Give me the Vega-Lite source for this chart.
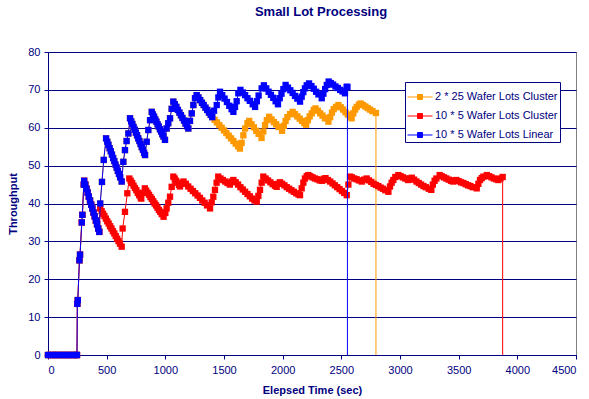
{
"$schema": "https://vega.github.io/schema/vega-lite/v6.json",
"width": 528, "height": 303,
"autosize": {"type": "none"},
"padding": {"left": 48, "top": 52, "right": 13, "bottom": 44},
"background": "white",
"title": {"text": "Small Lot Processing", "font": "Liberation Sans", "fontSize": 13, "fontWeight": "bold", "color": "#000080", "anchor": "middle", "dx": 9, "offset": 27},
"config": {
  "view": {"stroke": "#808080", "strokeWidth": 1},
  "axis": {"labelFont": "Liberation Sans", "labelFontSize": 11, "labelColor": "#000080", "domainColor": "#000080", "tickColor": "#000080", "tickSize": 4, "titleFont": "Liberation Sans", "titleFontSize": 11, "titleFontWeight": "bold", "titleColor": "#000080", "gridColor": "#000080", "gridOpacity": 1, "gridWidth": 1}
},
"datasets": {
"orange": [
{"t":0,"v":0},{"t":20,"v":0},{"t":40,"v":0},{"t":60,"v":0},{"t":80,"v":0},{"t":100,"v":0},{"t":120,"v":0},{"t":140,"v":0},{"t":160,"v":0},{"t":180,"v":0},{"t":200,"v":0},{"t":220,"v":0},{"t":240,"v":0},{"t":247,"v":0},
{"t":250,"v":13.5},{"t":254,"v":14.5},{"t":268,"v":25},{"t":273,"v":26.5},{"t":288,"v":35},{"t":293,"v":37},{"t":305,"v":45},{"t":308,"v":46},{"t":318,"v":45},{"t":328,"v":43.9},{"t":338,"v":42.9},{"t":348,"v":41.8},{"t":358,"v":40.8},{"t":368,"v":39.7},{"t":378,"v":38.7},{"t":388,"v":37.6},{"t":398,"v":36.6},{"t":408,"v":35.5},{"t":418,"v":34.5},{"t":428,"v":33.4},{"t":437,"v":32.5},
{"t":445,"v":40},{"t":460,"v":45.7},{"t":475,"v":51.5},{"t":495,"v":57.2},{"t":505,"v":56.3},{"t":515,"v":55.5},{"t":525,"v":54.6},{"t":535,"v":53.8},{"t":545,"v":52.9},{"t":555,"v":52},{"t":565,"v":51.2},{"t":575,"v":50.3},{"t":585,"v":49.5},{"t":595,"v":48.6},{"t":605,"v":47.8},{"t":615,"v":46.9},{"t":628,"v":45.8},{"t":642,"v":51},{"t":656,"v":54.1},{"t":670,"v":56.5},{"t":685,"v":58.5},{"t":699,"v":62.5},{"t":709,"v":61.7},{"t":719,"v":61},{"t":729,"v":60.2},{"t":739,"v":59.5},{"t":749,"v":58.7},{"t":759,"v":58},{"t":769,"v":57.2},{"t":779,"v":56.5},{"t":789,"v":55.7},{"t":799,"v":54.9},{"t":809,"v":54.2},{"t":819,"v":53.4},{"t":827,"v":52.8},{"t":841,"v":56.3},{"t":855,"v":59.4},{"t":870,"v":62},{"t":884,"v":64.2},{"t":894,"v":63.5},{"t":904,"v":62.9},{"t":914,"v":62.2},{"t":924,"v":61.6},{"t":934,"v":60.9},{"t":944,"v":60.3},{"t":954,"v":59.6},{"t":964,"v":59},{"t":974,"v":58.3},{"t":984,"v":57.7},{"t":997,"v":56.8},{"t":1011,"v":59.8},{"t":1025,"v":61.2},{"t":1040,"v":62.5},{"t":1054,"v":65},{"t":1068,"v":66.9},{"t":1081,"v":66.2},{"t":1094,"v":65.5},{"t":1107,"v":64.7},{"t":1120,"v":64},{"t":1133,"v":63.3},{"t":1146,"v":62.6},{"t":1159,"v":61.9},{"t":1172,"v":61.1},{"t":1185,"v":60.4},{"t":1196,"v":59.8},{"t":1210,"v":61.8},{"t":1225,"v":63.8},{"t":1239,"v":66},{"t":1253,"v":67.8},{"t":1267,"v":68.6},{"t":1282,"v":68},{"t":1297,"v":67.3},{"t":1312,"v":66.6},{"t":1327,"v":66},{"t":1342,"v":65.3},{"t":1357,"v":64.7},{"t":1372,"v":64},{"t":1387,"v":63.4},{"t":1400,"v":62.8},
{"t":1420,"v":62.1},{"t":1440,"v":61.4},{"t":1460,"v":60.7},{"t":1480,"v":60},{"t":1500,"v":59.3},{"t":1520,"v":58.6},{"t":1540,"v":57.9},{"t":1560,"v":57.2},{"t":1580,"v":56.5},{"t":1600,"v":55.8},{"t":1620,"v":55.1},{"t":1636,"v":54.5},{"t":1650,"v":56},{"t":1665,"v":58},{"t":1680,"v":59.8},{"t":1700,"v":61.2},{"t":1715,"v":61.8},{"t":1735,"v":60.9},{"t":1755,"v":60.1},{"t":1775,"v":59.2},{"t":1795,"v":58.4},{"t":1820,"v":57.3},{"t":1835,"v":59},{"t":1850,"v":60.7},{"t":1865,"v":62},{"t":1885,"v":62.9},{"t":1905,"v":62.2},{"t":1925,"v":61.5},{"t":1945,"v":60.9},{"t":1965,"v":60.2},{"t":1995,"v":59.2},{"t":2010,"v":60.5},{"t":2025,"v":61.8},{"t":2040,"v":62.8},{"t":2063,"v":63.6},{"t":2085,"v":64.2},{"t":2105,"v":63.6},{"t":2125,"v":63},{"t":2145,"v":62.4},{"t":2165,"v":61.8},{"t":2185,"v":61.2},{"t":2200,"v":60.8},{"t":2215,"v":62},{"t":2230,"v":63},{"t":2248,"v":63.8},{"t":2265,"v":64.7},{"t":2280,"v":65.1},{"t":2300,"v":64.5},{"t":2320,"v":63.8},{"t":2340,"v":63.2},{"t":2360,"v":62.5},{"t":2390,"v":61.6},{"t":2405,"v":62.8},{"t":2420,"v":64},{"t":2435,"v":64.9},{"t":2455,"v":65.5},{"t":2475,"v":66},{"t":2495,"v":65.4},{"t":2515,"v":64.8},{"t":2535,"v":64.1},{"t":2555,"v":63.5},{"t":2575,"v":62.9},{"t":2588,"v":62.5},{"t":2602,"v":63.8},{"t":2617,"v":64.8},{"t":2631,"v":65.5},{"t":2650,"v":66.1},{"t":2665,"v":66.4},{"t":2685,"v":66},{"t":2705,"v":65.6},{"t":2725,"v":65.2},{"t":2745,"v":64.8},{"t":2765,"v":64.4},{"t":2795,"v":63.9},{"t":2795,"v":0}
],
"red": [
{"t":0,"v":0},{"t":20,"v":0},{"t":40,"v":0},{"t":60,"v":0},{"t":80,"v":0},{"t":100,"v":0},{"t":120,"v":0},{"t":140,"v":0},{"t":160,"v":0},{"t":180,"v":0},{"t":200,"v":0},{"t":220,"v":0},{"t":240,"v":0},{"t":247,"v":0},
{"t":250,"v":13.5},{"t":254,"v":14.5},{"t":268,"v":25},{"t":273,"v":26.5},{"t":288,"v":35},{"t":293,"v":37},{"t":305,"v":45},{"t":308,"v":46},{"t":318,"v":45},{"t":328,"v":43.9},{"t":338,"v":42.9},{"t":348,"v":41.8},{"t":358,"v":40.8},{"t":368,"v":39.7},{"t":378,"v":38.7},{"t":388,"v":37.6},{"t":398,"v":36.6},{"t":408,"v":35.5},{"t":418,"v":34.5},{"t":428,"v":33.4},{"t":437,"v":32.5},
{"t":445,"v":38.7},{"t":457,"v":38},{"t":469,"v":37.3},{"t":481,"v":36.7},{"t":493,"v":36},{"t":505,"v":35.3},{"t":517,"v":34.7},{"t":529,"v":34},{"t":541,"v":33.4},{"t":553,"v":32.7},{"t":565,"v":32.1},{"t":577,"v":31.4},{"t":589,"v":30.7},{"t":601,"v":30.1},{"t":613,"v":29.4},{"t":628,"v":28.6},{"t":636,"v":33.4},{"t":656,"v":37.8},{"t":676,"v":42.7},{"t":693,"v":46.6},{"t":705,"v":46},{"t":717,"v":45.4},{"t":729,"v":44.7},{"t":741,"v":44.1},{"t":753,"v":43.5},{"t":765,"v":42.8},{"t":777,"v":42.2},{"t":789,"v":41.6},{"t":795,"v":41.3},{"t":810,"v":42.8},{"t":825,"v":44},{"t":837,"v":43.4},{"t":849,"v":42.8},{"t":861,"v":42.3},{"t":873,"v":41.7},{"t":885,"v":41.2},{"t":897,"v":40.6},{"t":909,"v":40},{"t":921,"v":39.5},{"t":933,"v":38.9},{"t":945,"v":38.3},{"t":957,"v":37.8},{"t":969,"v":37.2},{"t":985,"v":36.5},{"t":1000,"v":37.5},{"t":1011,"v":38.7},{"t":1025,"v":40.2},{"t":1040,"v":41.8},{"t":1054,"v":44.4},{"t":1068,"v":47.1},{"t":1080,"v":46.6},{"t":1092,"v":46},{"t":1104,"v":45.5},{"t":1116,"v":44.9},{"t":1125,"v":44.5},{"t":1140,"v":45.3},{"t":1155,"v":45.8},{"t":1175,"v":45.2},{"t":1195,"v":44.5},{"t":1215,"v":43.9},{"t":1235,"v":43.3},{"t":1255,"v":42.7},{"t":1275,"v":42.1},{"t":1295,"v":41.5},{"t":1315,"v":40.8},{"t":1335,"v":40.2},{"t":1355,"v":39.5},{"t":1381,"v":38.7},{"t":1395,"v":40.3},{"t":1409,"v":41.8},{"t":1423,"v":43.6},{"t":1437,"v":45.5},{"t":1451,"v":47.1},{"t":1470,"v":46.6},{"t":1490,"v":46.2},{"t":1510,"v":45.8},{"t":1530,"v":45.4},{"t":1550,"v":45},{"t":1565,"v":45.8},{"t":1580,"v":46.2},{"t":1600,"v":45.6},{"t":1620,"v":45},{"t":1640,"v":44.3},{"t":1660,"v":43.7},{"t":1680,"v":43.1},{"t":1700,"v":42.5},{"t":1720,"v":41.9},{"t":1740,"v":41.3},{"t":1760,"v":40.8},{"t":1779,"v":40.5},{"t":1793,"v":42},{"t":1807,"v":43.6},{"t":1821,"v":45.5},{"t":1835,"v":47.1},{"t":1855,"v":46.6},{"t":1875,"v":46.1},{"t":1895,"v":45.6},{"t":1915,"v":45.1},{"t":1935,"v":44.7},{"t":1949,"v":44.4},{"t":1963,"v":45.2},{"t":1977,"v":45.6},{"t":1995,"v":45.2},{"t":2015,"v":44.8},{"t":2035,"v":44.3},{"t":2055,"v":43.9},{"t":2075,"v":43.5},{"t":2095,"v":43.1},{"t":2115,"v":42.7},{"t":2135,"v":42.4},{"t":2148,"v":42.2},{"t":2162,"v":44},{"t":2176,"v":45.5},{"t":2190,"v":46.6},{"t":2205,"v":47.2},{"t":2219,"v":47.5},{"t":2235,"v":47.2},{"t":2255,"v":46.9},{"t":2275,"v":46.6},{"t":2295,"v":46.4},{"t":2315,"v":46.1},{"t":2335,"v":46},{"t":2350,"v":46.5},{"t":2365,"v":46.7},{"t":2385,"v":46.2},{"t":2405,"v":45.8},{"t":2425,"v":45.3},{"t":2445,"v":44.8},{"t":2465,"v":44.3},{"t":2485,"v":43.8},{"t":2505,"v":43.3},{"t":2525,"v":42.8},{"t":2546,"v":42.2},{"t":2560,"v":45},{"t":2574,"v":47.1},{"t":2590,"v":46.9},{"t":2610,"v":46.6},{"t":2630,"v":46.4},{"t":2650,"v":46.1},{"t":2674,"v":45.8},{"t":2695,"v":46.3},{"t":2716,"v":46.6},{"t":2735,"v":46.1},{"t":2755,"v":45.7},{"t":2775,"v":45.2},{"t":2795,"v":44.9},{"t":2815,"v":44.6},{"t":2835,"v":44.2},{"t":2855,"v":43.9},{"t":2875,"v":43.5},{"t":2901,"v":43.1},{"t":2915,"v":44.5},{"t":2929,"v":45.5},{"t":2943,"v":46.2},{"t":2960,"v":47},{"t":2986,"v":47.5},{"t":3005,"v":47.2},{"t":3025,"v":46.9},{"t":3045,"v":46.6},{"t":3068,"v":46.2},{"t":3085,"v":46.6},{"t":3100,"v":46.8},{"t":3120,"v":46.3},{"t":3140,"v":45.8},{"t":3160,"v":45.4},{"t":3180,"v":45},{"t":3200,"v":44.6},{"t":3220,"v":44.3},{"t":3245,"v":43.9},{"t":3267,"v":43.6},{"t":3280,"v":45},{"t":3295,"v":46},{"t":3310,"v":46.6},{"t":3338,"v":47.5},{"t":3355,"v":47.2},{"t":3375,"v":46.9},{"t":3395,"v":46.6},{"t":3415,"v":46.3},{"t":3435,"v":46},{"t":3452,"v":45.8},{"t":3466,"v":46.1},{"t":3480,"v":46.2},{"t":3500,"v":45.9},{"t":3520,"v":45.6},{"t":3540,"v":45.4},{"t":3560,"v":45.1},{"t":3580,"v":44.8},{"t":3600,"v":44.6},{"t":3620,"v":44.3},{"t":3654,"v":44},{"t":3668,"v":45.2},{"t":3682,"v":46.2},{"t":3697,"v":46.7},{"t":3711,"v":47.1},{"t":3740,"v":47.5},{"t":3760,"v":47.2},{"t":3780,"v":46.9},{"t":3800,"v":46.6},{"t":3820,"v":46.4},{"t":3838,"v":46.2},{"t":3855,"v":46.6},{"t":3875,"v":47},{"t":3875,"v":0}
],
"blue": [
{"t":0,"v":0},{"t":20,"v":0},{"t":40,"v":0},{"t":60,"v":0},{"t":80,"v":0},{"t":100,"v":0},{"t":120,"v":0},{"t":140,"v":0},{"t":160,"v":0},{"t":180,"v":0},{"t":200,"v":0},{"t":220,"v":0},{"t":240,"v":0},{"t":247,"v":0},
{"t":250,"v":13.5},{"t":254,"v":14.5},{"t":268,"v":25},{"t":273,"v":26.5},{"t":288,"v":35},{"t":293,"v":37},{"t":305,"v":45},{"t":308,"v":46},{"t":318,"v":45},{"t":328,"v":43.9},{"t":338,"v":42.9},{"t":348,"v":41.8},{"t":358,"v":40.8},{"t":368,"v":39.7},{"t":378,"v":38.7},{"t":388,"v":37.6},{"t":398,"v":36.6},{"t":408,"v":35.5},{"t":418,"v":34.5},{"t":428,"v":33.4},{"t":437,"v":32.5},
{"t":445,"v":40},{"t":460,"v":45.7},{"t":475,"v":51.5},{"t":495,"v":57.2},{"t":505,"v":56.3},{"t":515,"v":55.5},{"t":525,"v":54.6},{"t":535,"v":53.8},{"t":545,"v":52.9},{"t":555,"v":52},{"t":565,"v":51.2},{"t":575,"v":50.3},{"t":585,"v":49.5},{"t":595,"v":48.6},{"t":605,"v":47.8},{"t":615,"v":46.9},{"t":628,"v":45.8},{"t":642,"v":51},{"t":656,"v":54.1},{"t":670,"v":56.5},{"t":685,"v":58.5},{"t":699,"v":62.5},{"t":709,"v":61.7},{"t":719,"v":61},{"t":729,"v":60.2},{"t":739,"v":59.5},{"t":749,"v":58.7},{"t":759,"v":58},{"t":769,"v":57.2},{"t":779,"v":56.5},{"t":789,"v":55.7},{"t":799,"v":54.9},{"t":809,"v":54.2},{"t":819,"v":53.4},{"t":827,"v":52.8},{"t":841,"v":56.3},{"t":855,"v":59.4},{"t":870,"v":62},{"t":884,"v":64.2},{"t":894,"v":63.5},{"t":904,"v":62.9},{"t":914,"v":62.2},{"t":924,"v":61.6},{"t":934,"v":60.9},{"t":944,"v":60.3},{"t":954,"v":59.6},{"t":964,"v":59},{"t":974,"v":58.3},{"t":984,"v":57.7},{"t":997,"v":56.8},{"t":1011,"v":59.8},{"t":1025,"v":61.2},{"t":1040,"v":62.5},{"t":1054,"v":65},{"t":1068,"v":66.9},{"t":1081,"v":66.2},{"t":1094,"v":65.5},{"t":1107,"v":64.7},{"t":1120,"v":64},{"t":1133,"v":63.3},{"t":1146,"v":62.6},{"t":1159,"v":61.9},{"t":1172,"v":61.1},{"t":1185,"v":60.4},{"t":1196,"v":59.8},{"t":1210,"v":61.8},{"t":1225,"v":63.8},{"t":1239,"v":66},{"t":1253,"v":67.8},{"t":1267,"v":68.6},{"t":1282,"v":68},{"t":1297,"v":67.3},{"t":1312,"v":66.6},{"t":1327,"v":66},{"t":1342,"v":65.3},{"t":1357,"v":64.7},{"t":1372,"v":64},{"t":1387,"v":63.4},{"t":1400,"v":62.8},
{"t":1415,"v":64.5},{"t":1438,"v":66},{"t":1452,"v":68},{"t":1466,"v":69.5},{"t":1485,"v":68.6},{"t":1505,"v":67.7},{"t":1525,"v":66.8},{"t":1545,"v":65.8},{"t":1565,"v":64.9},{"t":1580,"v":64.2},{"t":1594,"v":65.5},{"t":1608,"v":67},{"t":1622,"v":69.1},{"t":1640,"v":70},{"t":1660,"v":69.3},{"t":1680,"v":68.6},{"t":1700,"v":67.8},{"t":1720,"v":67.1},{"t":1745,"v":66.2},{"t":1765,"v":65.5},{"t":1780,"v":67},{"t":1795,"v":68.5},{"t":1821,"v":70.4},{"t":1840,"v":71.2},{"t":1860,"v":70.4},{"t":1880,"v":69.5},{"t":1900,"v":68.7},{"t":1920,"v":67.9},{"t":1940,"v":67},{"t":1960,"v":66.2},{"t":1975,"v":67.8},{"t":1990,"v":69},{"t":2006,"v":70.2},{"t":2025,"v":71.3},{"t":2045,"v":70.6},{"t":2065,"v":69.9},{"t":2085,"v":69.2},{"t":2105,"v":68.4},{"t":2125,"v":67.7},{"t":2148,"v":66.9},{"t":2162,"v":68.2},{"t":2176,"v":69.4},{"t":2190,"v":70.4},{"t":2205,"v":71.2},{"t":2225,"v":71.7},{"t":2245,"v":71},{"t":2265,"v":70.3},{"t":2285,"v":69.5},{"t":2305,"v":68.8},{"t":2333,"v":67.8},{"t":2347,"v":69},{"t":2362,"v":70.2},{"t":2376,"v":71.3},{"t":2392,"v":72.2},{"t":2410,"v":71.8},{"t":2430,"v":71.4},{"t":2450,"v":70.9},{"t":2470,"v":70.5},{"t":2490,"v":70},{"t":2510,"v":69.6},{"t":2531,"v":69.1},{"t":2545,"v":70.8},{"t":2552,"v":70.8},{"t":2552,"v":0}
]
},
"encoding": {
  "x": {"field": "t", "type": "quantitative", "scale": {"domain": [0, 4500], "nice": false}, "axis": {"values": [0,500,1000,1500,2000,2500,3000,3500,4000,4500], "format": "d", "title": "Elepsed Time (sec)", "grid": false, "labelPadding": 5, "titlePadding": 9}},
  "y": {"field": "v", "type": "quantitative", "scale": {"domain": [0, 80], "nice": false}, "axis": {"values": [0,10,20,30,40,50,60,70,80], "title": "Throughput", "grid": true, "labelPadding": 4, "titlePadding": 9}}
},
"layer": [
  {"data": {"name": "orange"}, "layer": [
    {"mark": {"type": "line", "strokeWidth": 1}, "encoding": {"color": {"datum": "2 * 25 Wafer Lots Cluster", "scale": {"domain": ["2 * 25 Wafer Lots Cluster", "10 * 5 Wafer Lots Cluster", "10 * 5 Wafer Lots Linear"], "range": ["#FF9900", "#FF0000", "#0000FF"]}, "legend": {"orient": "none", "legendX": 357, "legendY": 30, "title": null, "symbolType": "M-1,0H1M-0.2,-0.2H0.2V0.2H-0.2Z", "symbolSize": 625, "symbolStrokeWidth": 1, "labelFont": "Liberation Sans", "labelFontSize": 11, "labelColor": "#000080", "labelOffset": 2, "strokeColor": "#000080", "fillColor": "white", "padding": 2, "rowPadding": 1, "encode": {"symbols": {"update": {"fill": {"scale": "color", "field": "value"}, "stroke": {"scale": "color", "field": "value"}, "opacity": {"value": 1}}}}}}}},
    {"transform": [{"filter": "datum.v > 0 || datum.t < 1000"}], "mark": {"type": "point", "shape": "square", "filled": true, "size": 40, "opacity": 1}, "encoding": {"color": {"datum": "2 * 25 Wafer Lots Cluster"}}}
  ]},
  {"data": {"name": "red"}, "layer": [
    {"mark": {"type": "line", "strokeWidth": 1}, "encoding": {"color": {"datum": "10 * 5 Wafer Lots Cluster"}}},
    {"transform": [{"filter": "datum.v > 0 || datum.t < 1000"}], "mark": {"type": "point", "shape": "square", "filled": true, "size": 40, "opacity": 1}, "encoding": {"color": {"datum": "10 * 5 Wafer Lots Cluster"}}}
  ]},
  {"data": {"name": "blue"}, "layer": [
    {"mark": {"type": "line", "strokeWidth": 1}, "encoding": {"color": {"datum": "10 * 5 Wafer Lots Linear"}}},
    {"transform": [{"filter": "datum.v > 0 || datum.t < 1000"}], "mark": {"type": "point", "shape": "square", "filled": true, "size": 40, "opacity": 1}, "encoding": {"color": {"datum": "10 * 5 Wafer Lots Linear"}}}
  ]}
]
}
